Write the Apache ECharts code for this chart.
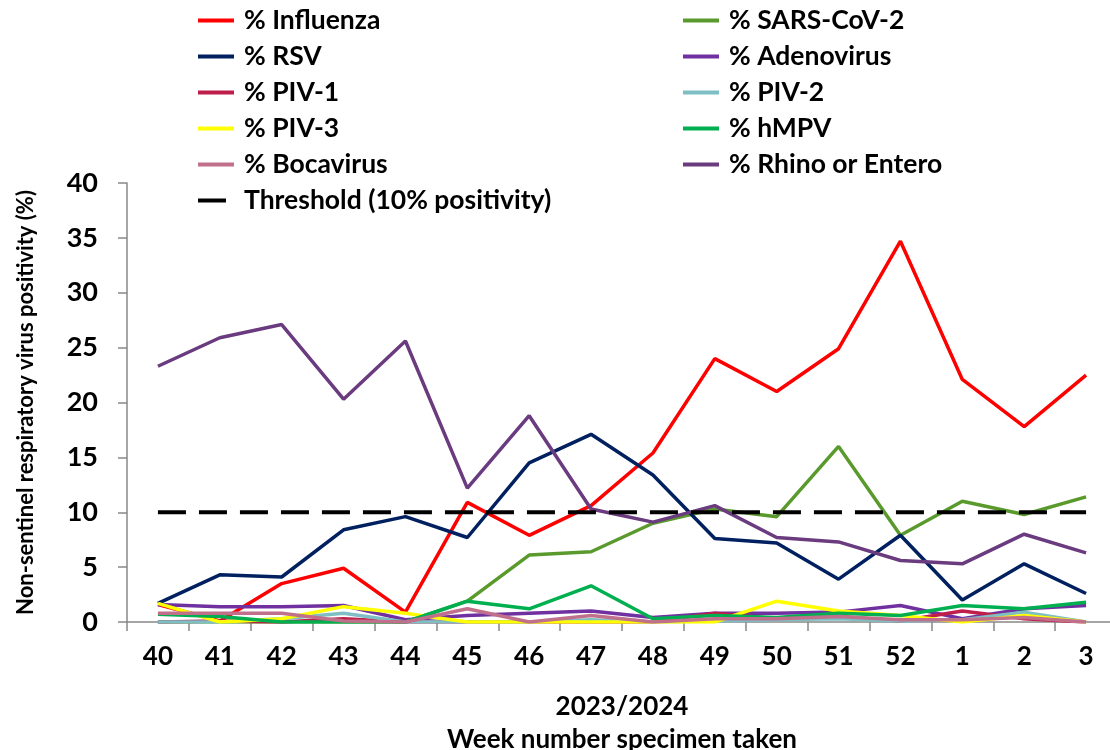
<!DOCTYPE html>
<html>
<head>
<meta charset="utf-8">
<script src="https://cdn.jsdelivr.net/npm/echarts@6/dist/echarts.min.js"></script>
<style>
html,body{margin:0;padding:0;background:#fff;}
#chart{width:1110px;height:750px;}
</style>
</head>
<body>
<div id="chart"></div>
<script>
// weeks 2023/2024
var weeks = ['40','41','42','43','44','45','46','47','48','49','50','51','52','1','2','3'];

var influenza  = [1.6, 0.1, 3.5, 4.9, 0.9, 10.9, 7.9, 10.6, 15.4, 24.0, 21.0, 24.9, 34.7, 22.1, 17.8, 22.5];
var sarsCov2   = [0, 0, 0, 0, 0, 1.9, 6.1, 6.4, 9.0, 10.3, 9.6, 16.0, 7.9, 11.0, 9.8, 11.4];
var rsv        = [1.7, 4.3, 4.1, 8.4, 9.6, 7.7, 14.5, 17.1, 13.4, 7.6, 7.2, 3.9, 7.9, 2.0, 5.3, 2.6];
var adenovirus = [1.6, 1.4, 1.4, 1.5, 0.2, 0.6, 0.8, 1.0, 0.4, 0.8, 0.8, 0.9, 1.5, 0.3, 1.2, 1.5];
var piv1       = [0, 0.1, 0, 0.3, 0, 0, 0, 0, 0, 0.8, 0.3, 0.5, 0.1, 1.0, 0.3, 0];
var piv2       = [0, 0, 0.3, 0.8, 0, 0, 0, 0.2, 0, 0.1, 0.2, 0.3, 0.1, 0.2, 0.9, 0];
var piv3       = [1.7, 0, 0.3, 1.4, 0.8, 0, 0, 0, 0, 0, 1.9, 1.0, 0.6, 0, 0.6, 0];
var hmpv       = [0.7, 0.5, 0, 0, 0, 1.9, 1.2, 3.3, 0.3, 0.6, 0.4, 0.8, 0.6, 1.5, 1.2, 1.8];
var bocavirus  = [0.8, 0.8, 0.8, 0.1, 0, 1.2, 0, 0.6, 0, 0.3, 0.3, 0.5, 0.2, 0.2, 0.4, 0];
var rhino      = [23.3, 25.9, 27.1, 20.3, 25.6, 12.2, 18.8, 10.3, 9.1, 10.6, 7.7, 7.3, 5.6, 5.3, 8.0, 6.3];
var threshold  = [10, 10, 10, 10, 10, 10, 10, 10, 10, 10, 10, 10, 10, 10, 10, 10];

var yTicks = [0, 5, 10, 15, 20, 25, 30, 35, 40];

var FONT = 'Lato';

function virusLine(name, data, color) {
	return {
		name: name,
		type: 'line',
		data: data,
		symbol: 'none',
		color: color,
		lineStyle: { color: color, width: 3.5 },
		emphasis: { disabled: true },
		z: 2
	};
}

var myChart = echarts.init(document.getElementById('chart'));

var legendText = { fontFamily: FONT, fontWeight: 'bold', fontSize: 26.5, color: '#000', lineHeight: 26, padding: [0, 0, 0, 5] };

var option = {
	animation: false,
	backgroundColor: '#fff',
	legend: [{
		orient: 'vertical',
		left: 193,
		top: 2,
		icon: 'rect',
		itemWidth: 36,
		itemHeight: 4,
		itemGap: 9,
		textStyle: legendText,
		data: ['% Influenza', '% RSV', '% PIV-1', '% PIV-3', '% Bocavirus',
			{ name: 'Threshold (10% positivity)', icon: 'path://M0,0H28V4H0Z M36,0L36,4' }]
	}, {
		orient: 'vertical',
		left: 678,
		top: 2,
		icon: 'rect',
		itemWidth: 36,
		itemHeight: 4,
		itemGap: 9,
		textStyle: legendText,
		data: ['% SARS-CoV-2', '% Adenovirus', '% PIV-2', '% hMPV', '% Rhino or Entero']
	}],
	grid: { left: 127, right: -7, top: 183, bottom: 128, containLabel: false, outerBoundsMode: 'none' },
	xAxis: {
		type: 'category',
		data: weeks,
		boundaryGap: true,
		axisLine: { lineStyle: { color: '#888', width: 1.5 } },
		axisTick: { show: true, length: 9, inside: false, lineStyle: { color: '#888', width: 1.5 } },
		axisLabel: { fontFamily: FONT, fontWeight: 'bold', fontSize: 26, color: '#000', margin: 22 },
		name: '2023/2024\nWeek number specimen taken',
		nameLocation: 'middle',
		nameGap: 68,
		nameTextStyle: { fontFamily: FONT, fontWeight: 'bold', fontSize: 26, color: '#000', lineHeight: 33, verticalAlign: 'top' }
	},
	yAxis: {
		type: 'value',
		min: yTicks[0],
		max: yTicks[yTicks.length - 1],
		interval: yTicks[1] - yTicks[0],
		splitLine: { show: false },
		axisLine: { show: true, lineStyle: { color: '#888', width: 1.5 } },
		axisTick: { show: true, length: 9, lineStyle: { color: '#888', width: 1.5 } },
		axisLabel: { fontFamily: FONT, fontWeight: 'bold', fontSize: 27, color: '#000', margin: 29 },
		name: 'Non-sentinel respiratory virus positivity (%)',
		nameLocation: 'middle',
		nameGap: 90,
		nameTextStyle: { fontFamily: FONT, fontWeight: 'bold', fontSize: 22, color: '#000' }
	},
	series: [
		virusLine('% Influenza', influenza, '#FF0000'),
		virusLine('% SARS-CoV-2', sarsCov2, '#5A9A2C'),
		virusLine('% RSV', rsv, '#002060'),
		virusLine('% Adenovirus', adenovirus, '#7030A0'),
		virusLine('% PIV-1', piv1, '#BE1E4A'),
		virusLine('% PIV-2', piv2, '#7FBFC4'),
		virusLine('% PIV-3', piv3, '#FFFF00'),
		virusLine('% hMPV', hmpv, '#00B050'),
		virusLine('% Bocavirus', bocavirus, '#C0708A'),
		virusLine('% Rhino or Entero', rhino, '#6A3B7E'),
		{
			name: 'Threshold (10% positivity)',
			type: 'line',
			data: threshold,
			symbol: 'none',
			color: '#000',
			lineStyle: { color: '#000', width: 4, type: [28, 13] },
			emphasis: { disabled: true },
			z: 3
		}
	]
};
myChart.setOption(option);
</script>
</body>
</html>
